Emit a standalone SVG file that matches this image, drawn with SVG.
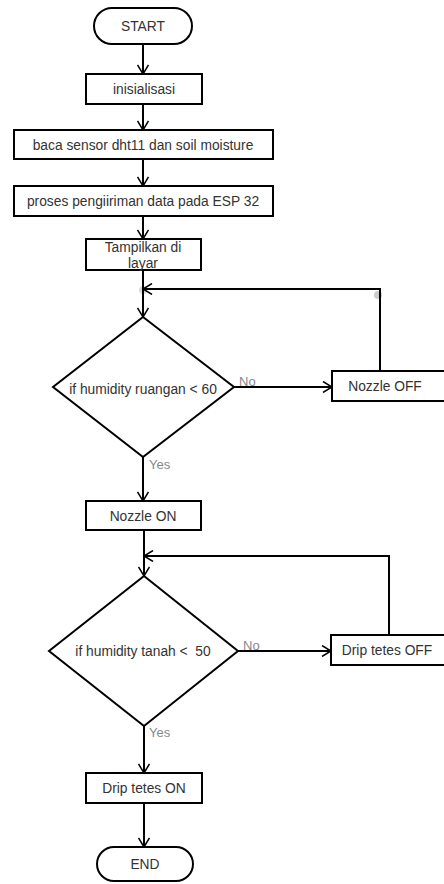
<svg xmlns="http://www.w3.org/2000/svg" width="444" height="884" viewBox="0 0 444 884">
<defs>
<marker id="arr" markerWidth="12" markerHeight="12" refX="10" refY="6" orient="auto" markerUnits="userSpaceOnUse">
<path d="M1,0.5 L10,6 L1,11.5" fill="none" stroke="#000" stroke-width="1.5"/>
</marker>
</defs>
<style>
.box{fill:#fff;stroke:#000;stroke-width:2}
.t{font-family:"Liberation Sans",Arial,sans-serif;font-size:13.8px;fill:#333;text-anchor:middle;dominant-baseline:central}
.lbl{font-family:"Liberation Sans",Arial,sans-serif;font-size:13px;fill:#888}
.c{fill:none;stroke:#000;stroke-width:2}
.ca{fill:none;stroke:#000;stroke-width:2;marker-end:url(#arr)}
</style>
<rect width="444" height="884" fill="#fff"/>
<g id="connectors">
<line class="ca" x1="143" y1="44" x2="143" y2="74"/>
<line class="ca" x1="143" y1="104" x2="143" y2="130"/>
<line class="ca" x1="143" y1="159" x2="143" y2="186"/>
<line class="ca" x1="143" y1="216" x2="143" y2="239"/>
<line class="ca" x1="143" y1="270" x2="143" y2="317"/>
<line class="ca" x1="234" y1="387" x2="332" y2="387"/>
<polyline class="ca" points="380,371 380,289 143,289"/>
<circle cx="143" cy="290" r="4" fill="#000" fill-opacity="0.15"/>
<circle cx="378" cy="295" r="4" fill="#000" fill-opacity="0.2"/>
<line class="ca" x1="143" y1="457" x2="143" y2="501"/>
<line class="ca" x1="144" y1="530" x2="144" y2="576"/>
<line class="ca" x1="238" y1="651" x2="331" y2="651"/>
<polyline class="ca" points="389,635 389,556 144,556"/>
<line class="ca" x1="144" y1="726" x2="144" y2="773"/>
<line class="ca" x1="144" y1="803" x2="144" y2="847"/>
<text class="lbl" x="239" y="386">No</text>
<text class="lbl" x="149" y="469">Yes</text>
<text class="lbl" x="243" y="650">No</text>
<text class="lbl" x="149" y="737">Yes</text>
</g>
<g id="start">
<rect class="box" x="94" y="8" width="98" height="36" rx="18"/>
<text class="t" x="143" y="26">START</text>
</g>
<g id="inisialisasi">
<rect class="box" x="86" y="74" width="116" height="30"/>
<text class="t" x="144" y="89">inisialisasi</text>
</g>
<g id="baca">
<rect class="box" x="14" y="130" width="259" height="29"/>
<text class="t" x="143" y="145">baca sensor dht11 dan soil moisture</text>
</g>
<g id="proses">
<rect class="box" x="14" y="186" width="259" height="30"/>
<text class="t" x="143" y="201">proses pengiiriman data pada ESP 32</text>
</g>
<g id="tampilkan">
<rect class="box" x="86" y="239" width="115" height="31"/>
<text class="t" x="143" y="247">Tampilkan di</text>
<text class="t" x="143" y="263">layar</text>
</g>
<g id="decision1">
<polygon class="box" points="143,317 234,387 143,457 53,387"/>
<text class="t" x="143" y="389">if humidity ruangan &lt; 60</text>
</g>
<g id="nozzle-off">
<rect class="box" x="332" y="371" width="114" height="30"/>
<text class="t" x="385" y="386">Nozzle OFF</text>
</g>
<g id="nozzle-on">
<rect class="box" x="86" y="501" width="115" height="29"/>
<text class="t" x="143" y="516">Nozzle ON</text>
</g>
<g id="decision2">
<polygon class="box" points="144,576 238,651 144,726 49,651"/>
<text class="t" x="143" y="651" style="white-space:pre">if humidity tanah &lt;  50</text>
</g>
<g id="drip-off">
<rect class="box" x="331" y="635" width="115" height="30"/>
<text class="t" x="387" y="650">Drip tetes OFF</text>
</g>
<g id="drip-on">
<rect class="box" x="86" y="773" width="116" height="30"/>
<text class="t" x="144" y="788">Drip tetes ON</text>
</g>
<g id="end">
<rect class="box" x="97" y="847" width="96" height="34" rx="17"/>
<text class="t" x="145" y="864">END</text>
</g>
</svg>
